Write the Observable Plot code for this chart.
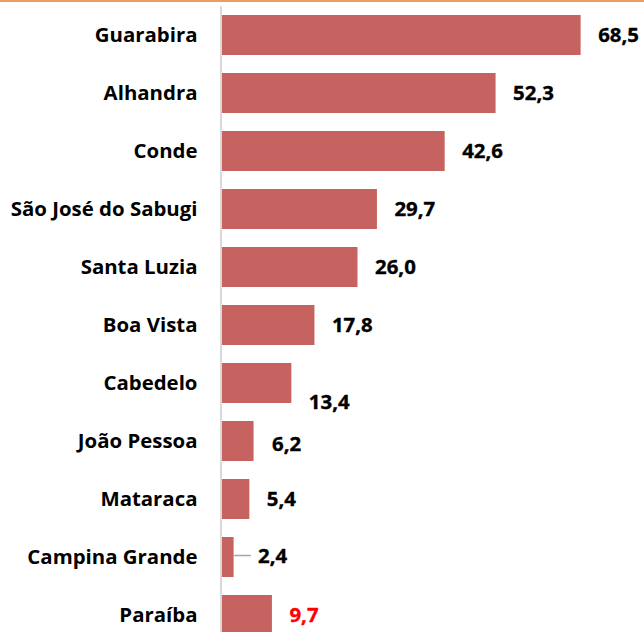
<!DOCTYPE html>
<html>
<head>
<meta charset="utf-8">
<script src="https://cdn.jsdelivr.net/npm/d3@7"></script>
<script src="https://cdn.jsdelivr.net/npm/@observablehq/plot@0.6"></script>
<style>
  html, body { margin: 0; padding: 0; background: #fff; }
  #wrap { position: relative; width: 644px; height: 632px; overflow: hidden; }
  #topline { position: absolute; left: 0; top: 0; width: 644px; height: 2px; background: #EE9A63; }
</style>
</head>
<body>
<div id="wrap"><div id="topline"></div></div>
<script>
const categories = ["Guarabira", "Alhandra", "Conde", "São José do Sabugi", "Santa Luzia", "Boa Vista", "Cabedelo", "João Pessoa", "Mataraca", "Campina Grande", "Paraíba"];
const values = [68.5, 52.3, 42.6, 29.7, 26.0, 17.8, 13.4, 6.2, 5.4, 2.4, 9.7];
const highlight = "Paraíba";

const data = categories.map((c, i) => ({category: c, value: values[i]}));
const fmt = v => v.toFixed(1).replace(".", ",");
const font = "'Open Sans', sans-serif";
const fs = 20.4;
const heavy = {fontSize: fs, fontWeight: "bold", strokeWidth: 0.35, paintOrder: "normal"};

const normal = data.filter(d => !["Cabedelo", "João Pessoa", "Campina Grande", highlight].includes(d.category));

const chart = Plot.plot({
  width: 644,
  height: 632,
  marginLeft: 221,
  marginRight: 3,
  marginTop: 6,
  marginBottom: 0,
  style: {fontFamily: font, background: "transparent", overflow: "visible"},
  x: {domain: [0, 80], axis: null},
  y: {domain: categories, range: [6, 644], paddingInner: 0.31, paddingOuter: 0.155, label: null},
  marks: [
    Plot.barX(data, {x: "value", y: "category", fill: "#C6625F"}),
    Plot.ruleX([0], {stroke: "#D9D9D9", strokeWidth: 2, dx: -0.5}),
    Plot.axisY({tickSize: 0, tickPadding: 24, ...heavy, fill: "#000", stroke: "#000", label: null}),
    Plot.text(normal, {x: "value", y: "category", text: d => fmt(d.value), textAnchor: "start", dx: 17, ...heavy, fill: "#000", stroke: "#000"}),
    Plot.text(data.filter(d => d.category === "Cabedelo"), {x: "value", y: "category", text: d => fmt(d.value), textAnchor: "start", dx: 17, dy: 19, ...heavy, fill: "#000", stroke: "#000"}),
    Plot.text(data.filter(d => d.category === "João Pessoa"), {x: "value", y: "category", text: d => fmt(d.value), textAnchor: "start", dx: 18, dy: 3, ...heavy, fill: "#000", stroke: "#000"}),
    Plot.ruleY(data.filter(d => d.category === "Campina Grande"), {y: "category", x1: d => d.value, x2: d => d.value + 3.2, dx: 0.5, dy: -2, stroke: "#A6A6A6", strokeWidth: 1.5}),
    Plot.text(data.filter(d => d.category === "Campina Grande"), {x: "value", y: "category", text: d => fmt(d.value), textAnchor: "start", dx: 24, dy: -1, ...heavy, fill: "#000", stroke: "#000"}),
    Plot.text(data.filter(d => d.category === highlight), {x: "value", y: "category", text: d => fmt(d.value), textAnchor: "start", dx: 17, ...heavy, fill: "#FF0000", stroke: "#FF0000"})
  ]
});
document.getElementById("wrap").appendChild(chart);
</script>
</body>
</html>
